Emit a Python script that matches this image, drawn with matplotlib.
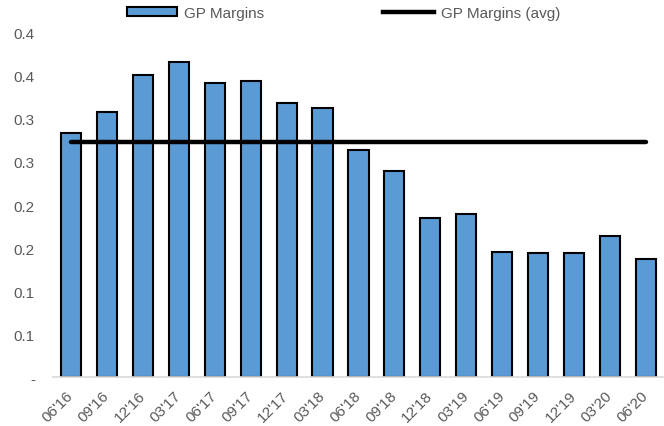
import matplotlib
matplotlib.use("Agg")
import matplotlib.pyplot as plt
from matplotlib.lines import Line2D
from matplotlib.patches import Patch

# Quarterly gross-profit margins
quarters = ["06'16", "09'16", "12'16", "03'17", "06'17", "09'17", "12'17", "03'18",
            "06'18", "09'18", "12'18", "03'19", "06'19", "09'19", "12'19", "03'20", "06'20"]
gp_margins = [0.283, 0.308, 0.351, 0.366, 0.341, 0.344, 0.318, 0.313,
              0.264, 0.239, 0.185, 0.190, 0.146, 0.144, 0.144, 0.164, 0.137]
gp_margin_avg = 0.273

y_ticks = [0.0, 0.05, 0.10, 0.15, 0.20, 0.25, 0.30, 0.35, 0.40]
y_tick_labels = ["-", "0.1", "0.1", "0.2", "0.2", "0.3", "0.3", "0.4", "0.4"]

plt.rcParams["font.family"] = ["Liberation Sans", "DejaVu Sans"]
text_color = "#595959"
bar_color = "#5B9BD5"

fig = plt.figure(figsize=(6.64, 4.27), dpi=100)
ax = fig.add_axes([0.0798, 0.1136, 0.9202, 0.8079])

x = list(range(len(quarters)))
ax.bar(x, gp_margins, width=0.56, color=bar_color, edgecolor="black",
       linewidth=1.5, zorder=2)
ax.plot([x[0], x[-1]], [gp_margin_avg, gp_margin_avg], color="black",
        linewidth=3.2, solid_capstyle="round", zorder=3)

ax.set_xlim(-0.5, len(quarters) - 0.5)
ax.set_ylim(0, 0.40)
ax.set_yticks(y_ticks)
ax.set_yticklabels(y_tick_labels)
ax.set_xticks(x)
ax.set_xticklabels(quarters, rotation=45, ha="right", va="center",
                   rotation_mode="anchor")

for side in ("top", "right", "left"):
    ax.spines[side].set_visible(False)
ax.spines["bottom"].set_color("#D9D9D9")
ax.spines["bottom"].set_linewidth(1.2)
ax.tick_params(axis="y", length=0, pad=13, labelsize=11, labelcolor=text_color)
ax.tick_params(axis="x", length=0, pad=11, labelsize=11, labelcolor=text_color)

handles = [
    Patch(facecolor=bar_color, edgecolor="black", linewidth=1.5, label="GP Margins"),
    Line2D([0], [0], color="black", linewidth=3.2, label="GP Margins (avg)"),
]
fig.legend(handles=handles, loc="center", bbox_to_anchor=(0.517, 0.967), ncol=2,
           frameon=False, fontsize=11, labelcolor=text_color, handlelength=3.3,
           handleheight=0.5, handletextpad=0.45, columnspacing=7.8)

fig.savefig("out.png", dpi=100)
